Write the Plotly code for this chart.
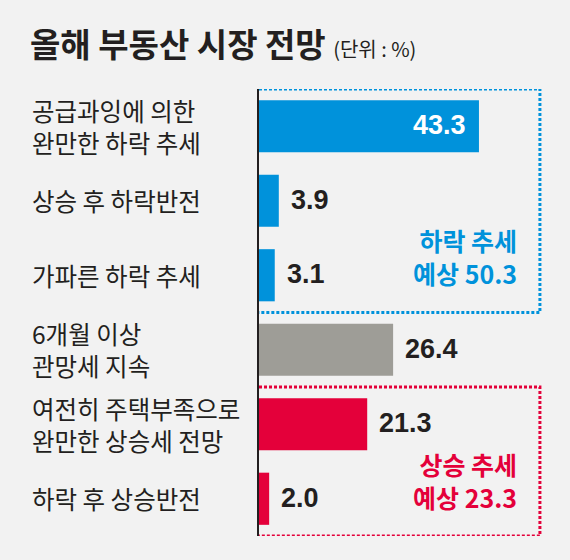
import plotly.graph_objects as go

# ---- data ----
categories = [
    "공급과잉에 의한\n완만한 하락 추세",
    "상승 후 하락반전",
    "가파른 하락 추세",
    "6개월 이상\n관망세 지속",
    "여전히 주택부족으로\n완만한 상승세 전망",
    "하락 후 상승반전",
]
values = [43.3, 3.9, 3.1, 26.4, 21.3, 2.0]
groups = ["down", "down", "down", "flat", "up", "up"]
group_labels = {"down": "하락 추세\n예상 50.3", "up": "상승 추세\n예상 23.3"}
title_text = "올해 부동산 시장 전망"
unit_text = "(단위 : %)"

# ---- style ----
BG = "#f2f2f2"
BLUE = "#0092db"
RED = "#e4003a"
GRAY = "#9e9d97"
DARK = "#231f20"
colors = {"down": BLUE, "flat": GRAY, "up": RED}
KFONT = "Noto Sans CJK KR, Noto Sans, sans-serif"
NFONT = "Liberation Sans, Arial, sans-serif"

idx = list(range(len(categories)))

fig = go.Figure()
fig.add_trace(go.Bar(
    x=values, y=idx, orientation="h",
    marker=dict(color=[colors[g] for g in groups], line=dict(width=0)),
    width=0.7, hoverinfo="skip",
))

ann = []
# category labels (left aligned, multi-line)
for i, lab in enumerate(categories):
    ann.append(dict(
        x=0, y=i, xref="x", yref="y", text=lab.replace("\n", "<br>"),
        showarrow=False, xanchor="left", yanchor="middle", align="left",
        xshift=-229, yshift=0,
        font=dict(family=KFONT, size=24.5, color=DARK),
    ))

# value labels
for i, v in enumerate(values):
    inside = v > 30
    ann.append(dict(
        x=v, y=i, xref="x", yref="y", text=f"<b>{v:.1f}</b>", showarrow=False,
        xanchor="right" if inside else "left", yanchor="middle",
        xshift=-11 if inside else 10, yshift=1,
        font=dict(family=NFONT, size=27, color="white" if inside else DARK),
    ))

# group boxes and labels
box_right = 55.3
label_x = 51.2
for g, col in (("down", BLUE), ("up", RED)):
    members = [i for i, gg in enumerate(groups) if gg == g]
    top = min(members) - 0.5
    bot = max(members) + 0.5
    fig.add_shape(
        type="path",
        path=f"M 0,{top} L {box_right},{top} L {box_right},{bot} L 0,{bot}",
        xref="x", yref="y",
        line=dict(color=col, width=3, dash="3px,2px"),
    )
    txt = "<br>".join(f"<b>{l}</b>" for l in group_labels[g].split("\n"))
    ann.append(dict(
        x=label_x, y=bot, xref="x", yref="y", text=txt,
        showarrow=False, xanchor="right", yanchor="middle", align="right",
        yshift=56,
        font=dict(family=KFONT, size=25, color=col),
    ))

fig.update_layout(
    width=570, height=560,
    paper_bgcolor=BG, plot_bgcolor=BG,
    margin=dict(l=259, r=20, t=89, b=24),
    showlegend=False,
    bargap=0.3,
    title=dict(
        text=f"<b>{title_text}</b> <span style='font-size:20px'>{unit_text}</span>",
        x=30 / 570, xanchor="left", xref="container",
        y=1 - 45 / 560, yanchor="middle", yref="container",
        font=dict(family=KFONT, size=33, color=DARK),
    ),
    annotations=ann,
    xaxis=dict(range=[0, 291 / 5.08], visible=False, fixedrange=True),
    yaxis=dict(range=[5.5, -0.5], showticklabels=False, showgrid=False,
               zeroline=False, showline=True, linecolor=DARK, linewidth=1.5,
               ticks="", fixedrange=True),
)

fig.write_html("out.html", config={"displayModeBar": False},
               post_script="document.body.style.margin='0';")
